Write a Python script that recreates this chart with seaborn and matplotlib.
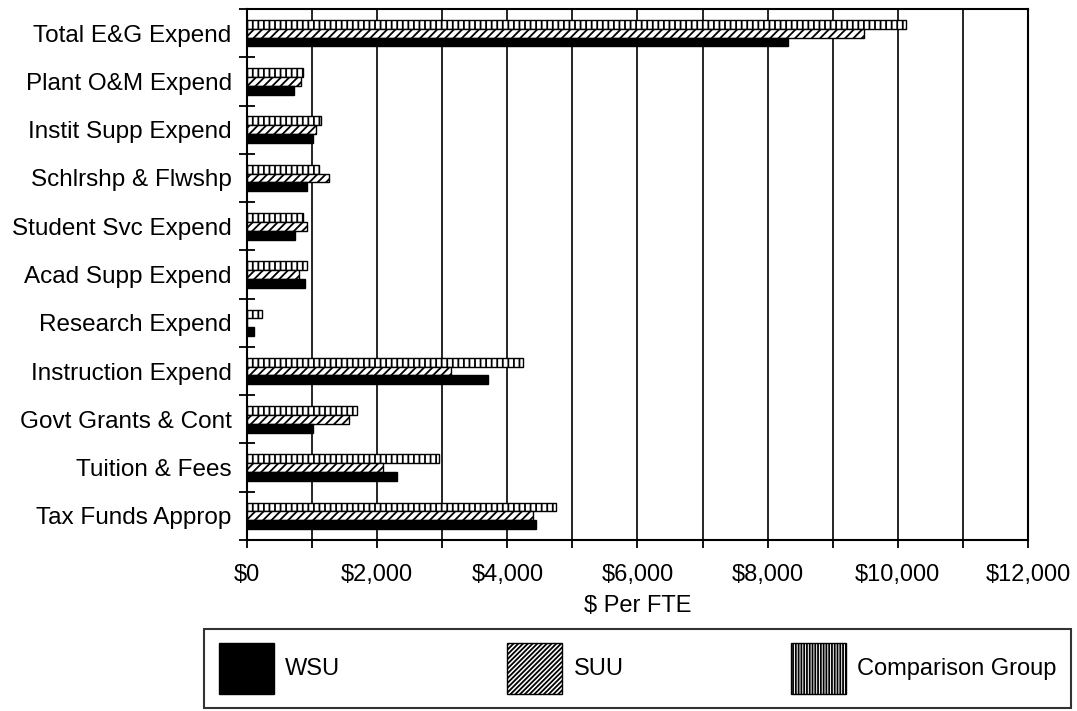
import numpy as np
import pandas as pd
import matplotlib
matplotlib.use("Agg")
import matplotlib.pyplot as plt
from matplotlib.ticker import FuncFormatter, MultipleLocator, FixedLocator
from matplotlib.patches import Patch
import seaborn as sns

categories = ["Total E&G Expend", "Plant O&M Expend", "Instit Supp Expend",
              "Schlrshp & Flwshp", "Student Svc Expend", "Acad Supp Expend",
              "Research Expend", "Instruction Expend", "Govt Grants & Cont",
              "Tuition & Fees", "Tax Funds Approp"]
wsu = [8310, 720, 1015, 920, 735, 890, 105, 3705, 1020, 2300, 4440]
suu = [9480, 830, 1060, 1260, 920, 800, 0, 3135, 1565, 2085, 4400]
comp = [10130, 855, 1135, 1105, 860, 920, 230, 4235, 1695, 2950, 4755]
series_names = ["WSU", "SUU", "Comparison Group"]
x_label = "$ Per FTE"

sns.set_theme(style="white")
plt.rcParams["font.family"] = ["Liberation Sans", "DejaVu Sans"]
plt.rcParams["text.color"] = "black"
plt.rcParams["axes.labelcolor"] = "black"
plt.rcParams["xtick.color"] = "black"
plt.rcParams["ytick.color"] = "black"
plt.rcParams["hatch.linewidth"] = 1.3
plt.rcParams["hatch.color"] = "black"

df = pd.DataFrame({
    "category": categories * 3,
    "value": wsu + suu + comp,
    "series": [series_names[0]] * len(categories) + [series_names[1]] * len(categories)
              + [series_names[2]] * len(categories),
})

fig = plt.figure(figsize=(10.77, 7.11), dpi=100)
ax = fig.add_axes([0.2293, 0.2405, 0.9545 - 0.2293, 0.9873 - 0.2405])

hue_order = ["Comparison Group", "SUU", "WSU"]
sns.barplot(data=df, x="value", y="category", hue="series", hue_order=hue_order,
            order=categories, orient="h", width=0.55, errorbar=None,
            palette=["white", "white", "black"], edgecolor="black", linewidth=1.0,
            saturation=1, ax=ax, legend=False)

styles = {"Comparison Group": ("white", "|||"), "SUU": ("white", "////"), "WSU": ("black", None)}
for cont, name in zip(ax.containers, hue_order):
    fc, h = styles[name]
    for bar in cont:
        bar.set_facecolor(fc)
        bar.set_edgecolor("black")
        if h:
            bar.set_hatch(h)

ax.set_xlim(0, 12000)
ax.xaxis.set_major_locator(MultipleLocator(2000))
ax.xaxis.set_minor_locator(MultipleLocator(1000))
ax.xaxis.set_major_formatter(FuncFormatter(lambda v, p: f"${v:,.0f}"))
ax.grid(axis="x", which="both", color="black", linewidth=1.2)
ax.grid(axis="y", visible=False)
ax.set_axisbelow(True)

n = len(categories)
ax.set_ylim(n - 0.5, -0.5)
ax.yaxis.set_minor_locator(FixedLocator(np.arange(-0.5, n, 1.0)))
ax.tick_params(axis="y", which="major", length=0, pad=11, labelsize=17.5, labelcolor="black")
ax.tick_params(axis="y", which="minor", left=True, direction="inout", length=12, width=1.3, color="black")
ax.tick_params(axis="x", which="both", bottom=True, direction="out", length=6, width=1.3, color="black")
ax.tick_params(axis="x", which="major", pad=11, labelsize=17, labelcolor="black")

ax.set_ylabel("")
ax.set_xlabel(x_label, fontsize=17, labelpad=7, color="black")

for s in ax.spines.values():
    s.set_visible(True)
    s.set_color("black")
    s.set_linewidth(1.5)

handles = [Patch(facecolor="black", edgecolor="black", label="WSU"),
           Patch(facecolor="white", edgecolor="black", hatch="///////", label="SUU"),
           Patch(facecolor="white", edgecolor="black", hatch="||||||", label="Comparison Group")]
leg = fig.legend(handles=handles, loc="center", bbox_to_anchor=(0.592, 0.0598), ncol=3,
                 fontsize=17, handlelength=2.33, handleheight=2.9, handletextpad=0.47,
                 columnspacing=7.1, borderpad=0.6, fancybox=False, frameon=True,
                 labelcolor="black")
leg.get_frame().set_edgecolor("black")
leg.get_frame().set_linewidth(1.5)

fig.savefig("out.png", dpi=100)
